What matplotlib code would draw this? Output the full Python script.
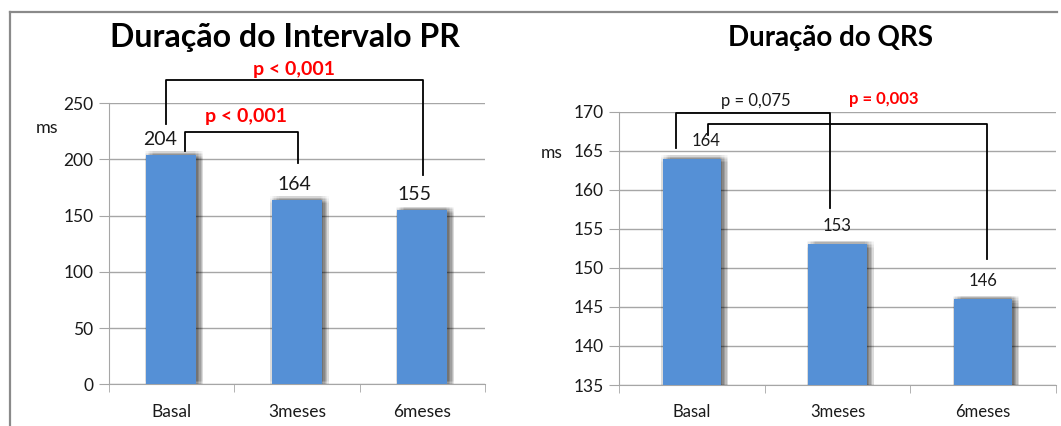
import matplotlib
matplotlib.use("Agg")
import matplotlib.pyplot as plt
from matplotlib.lines import Line2D
import matplotlib.patheffects as pe

plt.rcParams['font.family'] = ['Lato', 'DejaVu Sans']

categories = ["Basal", "3meses", "6meses"]
pr_values = [204, 164, 155]
qrs_values = [164, 153, 146]
pr_title = "Duração do Intervalo PR"
qrs_title = "Duração do QRS"
pr_yticks = [0, 50, 100, 150, 200, 250]
qrs_yticks = [135, 140, 145, 150, 155, 160, 165, 170]
unit = "ms"

BAR = "#5590D6"
GRID = "#a6a6a6"
TXT = "#1a1a1a"

fig = plt.figure(figsize=(10.61, 4.26), dpi=100)
fig.patch.set_facecolor("white")

def px(x, y):
    return x / 1061.0, 1 - y / 426.0

# outer frame lines
fig.add_artist(Line2D([px(10, 0)[0], px(1057, 0)[0]], [px(0, 12)[1]] * 2,
                      color="#8a8a8a", lw=1.6))
fig.add_artist(Line2D([px(10, 0)[0]] * 2, [px(0, 12)[1], 0], color="#8a8a8a", lw=1.6))

shadow = []
for dx in [-1.0, 0.0, 1.0, 2.0, 3.0, 4.0, 5.0]:
    for dy in [-2.5, -1.5, -0.5, 0.5, 1.5, 2.5]:
        shadow.append(pe.SimplePatchShadow(offset=(dx, dy), shadow_rgbFace="#000000",
                                           alpha=0.025, rho=1.0))
shadow.append(pe.Normal())


def setup(ax, values, yticks, ylim, xfs):
    x = list(range(len(values)))
    bars = ax.bar(x, values, width=0.40, color=BAR, zorder=3, linewidth=0)
    for b in bars:
        b.set_path_effects(shadow)
    ax.set_xlim(-0.5, 2.5)
    ax.set_ylim(*ylim)
    ax.set_yticks(yticks)
    ax.set_yticklabels([str(t) for t in yticks], fontsize=12.5, color=TXT)
    ax.set_xticks(x)
    ax.set_xticklabels(categories, fontsize=xfs, color=TXT)
    ax.set_xticks([-0.5, 0.5, 1.5, 2.5], minor=True)
    ax.tick_params(axis="x", which="major", length=0, pad=14)
    ax.tick_params(axis="x", which="minor", length=6, color=GRID, direction="out")
    ax.tick_params(axis="y", length=7, color=GRID, pad=4)
    ax.grid(axis="y", color=GRID, lw=1.0, zorder=0)
    ax.set_axisbelow(True)
    for s in ["top", "right"]:
        ax.spines[s].set_visible(False)
    ax.spines["left"].set_color(GRID)
    ax.spines["bottom"].set_color(GRID)
    ax.patch.set_alpha(0)


def bracket(ax, x1, x2, y1, ytop, y2):
    ax.plot([x1, x1, x2, x2], [y1, ytop, ytop, y2], color="black", lw=1.3,
            clip_on=False, zorder=5)


# ---------- Left chart ----------
axL = fig.add_axes([0.1023, 0.0977, 0.3549, 0.6603])
setup(axL, pr_values, pr_yticks, (0, 250), 12.5)
for i, (v, off) in enumerate(zip(pr_values, [-8, -2, -6])):
    axL.annotate(str(v), (i, v), xytext=(off, 11), textcoords="offset points",
                 ha="center", va="center", fontsize=14, color=TXT, zorder=6)
bracket(axL, -0.045, 2.008, 231.4, 270.1, 186.0)
bracket(axL, 0.108, 1.011, 207.0, 224.5, 196.5)
axL.text(0.978, 280.1, "p < 0,001", color="red", fontweight="bold", fontsize=14,
         ha="center", va="center", clip_on=False)
axL.text(0.594, 238.0, "p < 0,001", color="red", fontweight="bold", fontsize=14,
         ha="center", va="center", clip_on=False)
fig.text(*px(285, 37.5), pr_title, fontsize=23, fontweight="bold", ha="center",
         va="center", color="black")
fig.text(*px(47, 128), unit, fontsize=13, ha="center", va="center", color=TXT)

# ---------- Right chart ----------
axR = fig.add_axes([0.5835, 0.0962, 0.4117, 0.6415])
setup(axR, qrs_values, qrs_yticks, (135, 170), 12)
for i, (v, off) in enumerate(zip(qrs_values, [10, 0, 0])):
    axR.annotate(str(v), (i, v), xytext=(off, 13), textcoords="offset points",
                 ha="center", va="center", fontsize=12, color=TXT, zorder=6)
bracket(axR, -0.112, 0.951, 165.31, 169.85, 157.63)
bracket(axR, 0.109, 2.028, 167.04, 168.43, 151.12)
axR.text(0.44, 171.38, "p = 0,075", color=TXT, fontsize=12,
         ha="center", va="center", clip_on=False)
axR.text(1.319, 171.59, "p = 0,003", color="red", fontweight="bold", fontsize=12,
         ha="center", va="center", clip_on=False)
fig.text(*px(830, 38), qrs_title, fontsize=20, fontweight="bold", ha="center",
         va="center", color="black")
fig.text(*px(552, 153), unit, fontsize=12.5, ha="center", va="center", color=TXT)

fig.savefig("out.png", dpi=100, facecolor="white")
